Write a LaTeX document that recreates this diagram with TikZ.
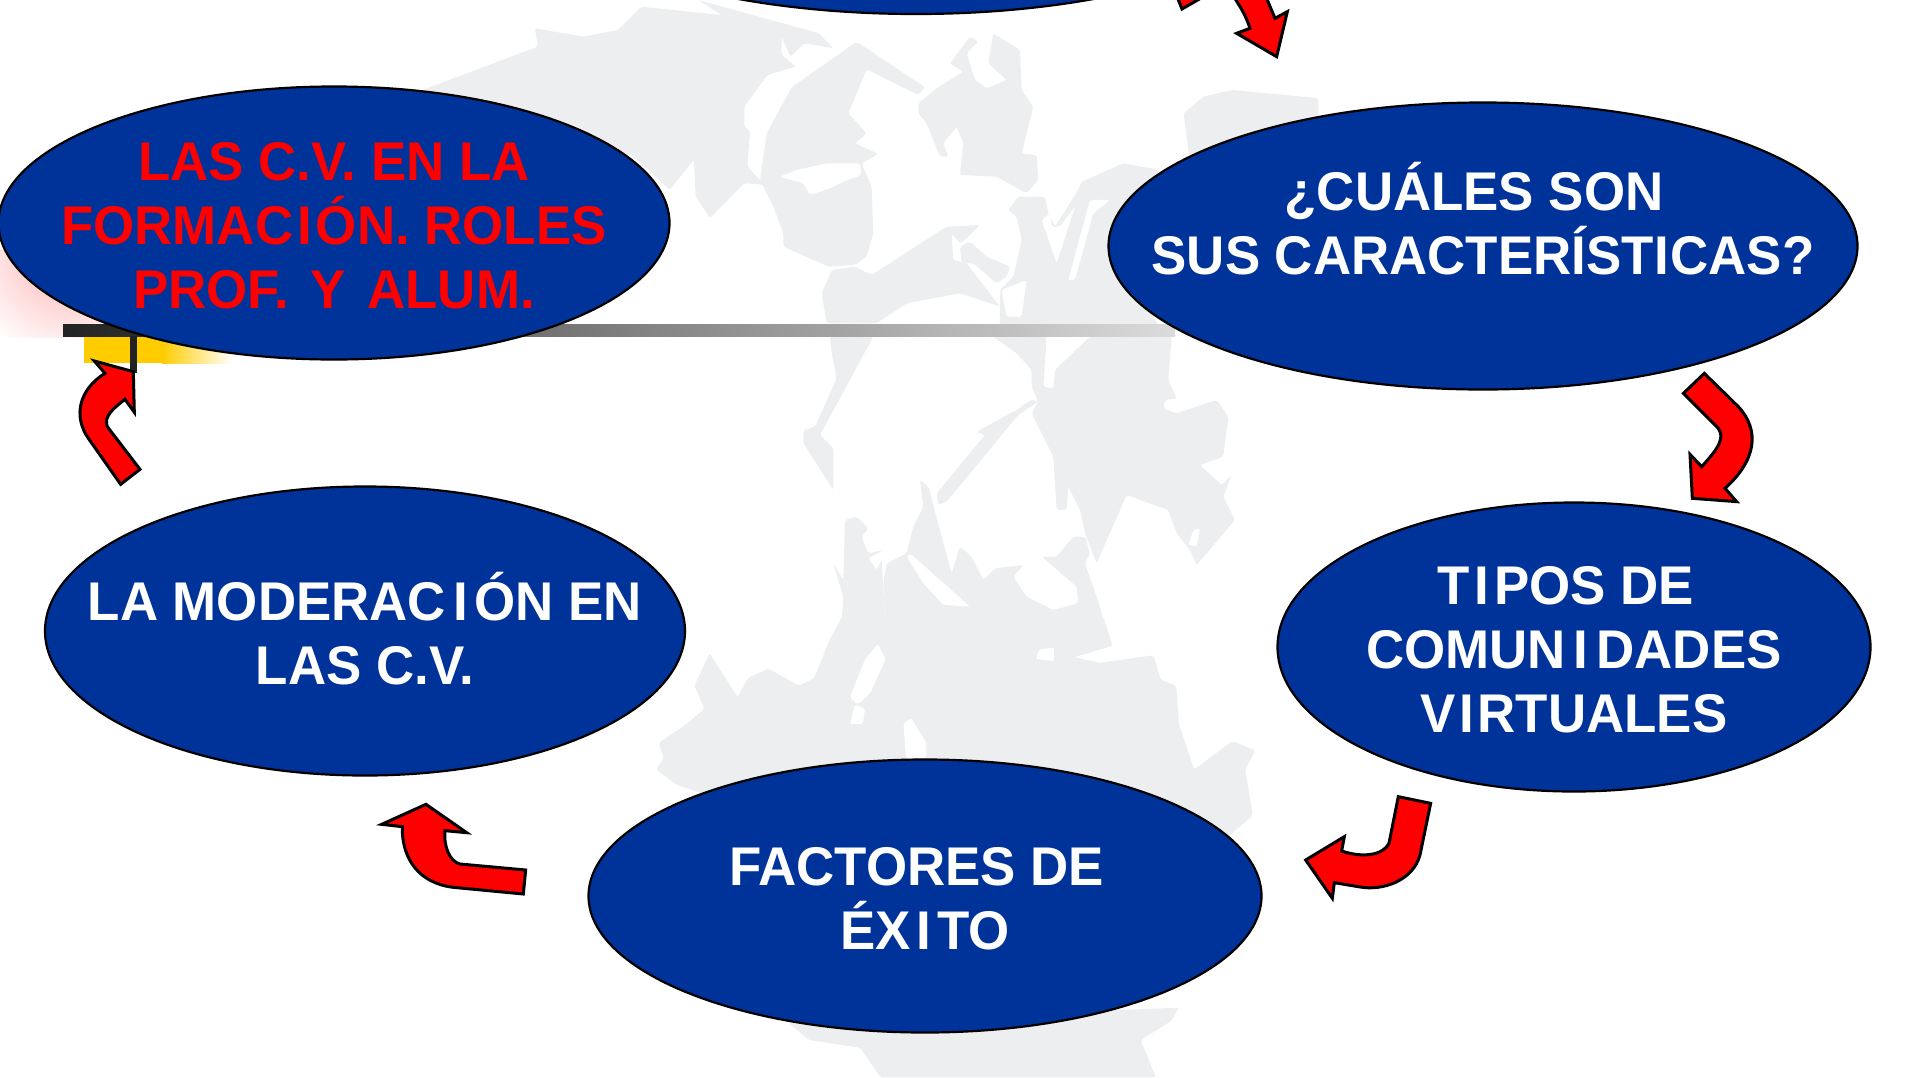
\documentclass[tikz,border=0pt]{standalone}
\usepackage{fontspec}
\setmainfont[FakeStretch=0.97]{Liberation Sans}
\usetikzlibrary{shapes.geometric}
\definecolor{bubblue}{HTML}{003399}
\definecolor{bggray}{HTML}{ECEEEF}
\definecolor{goldbar}{HTML}{FFCC00}
\definecolor{darkbar}{HTML}{222222}
\newcommand{\wideI}[1]{\kern#1pt I\kern#1pt}
\tikzset{
  bubble/.style={ellipse, draw=black, line width=2.2pt, fill=bubblue, inner sep=0pt},
  bubtext/.style={text=white, align=center, inner sep=0pt, font=\fontsize{54.5}{64}\selectfont\bfseries},
  blockarrow/.style={fill=red, draw=black, line width=3pt, line join=miter},
  bgshape/.style={fill=bggray, draw=none, rounded corners=2pt},
  bghole/.style={fill=white, draw=none, rounded corners=2pt}
}
\begin{document}
\begin{tikzpicture}[x=1pt, y=-1pt]
\useasboundingbox (0,0) rectangle (1915,1077);
% silhouette, far left and far right
\begin{scope}[shift={(400,0)}, xscale=0.574, yscale=0.333]
\fill [bgshape] (40,270) -- (240,140) -- (235,85) -- (320,110) -- (380,90) -- (420,20) -- (560,45) -- (520,0) -- (730,100) -- (755,145) -- (705,130) -- (680,170) -- (665,110) -- (665,165) -- (690,200) -- (640,225) -- (600,320) -- (600,380) -- (610,395) -- (605,500) -- (635,555) -- (600,550) -- (540,655) -- (515,590) -- (512,480) -- (470,570) -- (400,460) -- (300,600) -- (0,600) -- cycle;
\fill [bgshape] (1365,340) -- (1400,290) -- (1450,270) -- (1600,295) -- (1600,700) -- (1350,700) -- (1375,470) -- cycle;
\end{scope}
% silhouette, above the bar
\begin{scope}[shift={(760,0)}, scale=0.3333]
\fill [bgshape] (95,262) -- (290,125) -- (495,262) -- (475,285) -- (320,208) -- (265,340) -- (320,400) -- (285,430) -- (355,462) -- (305,490) -- (335,560) -- (340,700) -- (320,770) -- (285,795) -- (205,800) -- (70,740) -- (70,700) -- (40,620) -- (0,540) -- (20,400) -- cycle;
\fill [bghole] (60,530) -- (110,510) -- (200,490) -- (300,490) -- (305,525) -- (250,545) -- (210,565) -- (150,585) -- (130,550) -- cycle;
\fill [bgshape] (475,310) -- (530,265) -- (610,215) -- (570,190) -- (630,110) -- (655,125) -- (620,160) -- (645,240) -- (680,265) -- (740,240) -- (685,190) -- (700,100) -- (780,150) -- (785,270) -- (820,320) -- (785,460) -- (830,465) -- (835,540) -- (800,580) -- (710,530) -- (600,525) -- (610,430) -- (590,380) -- (550,430) -- (565,470) -- (540,470) -- (500,370) -- (475,340) -- cycle;
\fill [bgshape] (745,630) -- (775,590) -- (855,590) -- (865,640) -- (885,680) -- (955,570) -- (965,545) -- (1090,490) -- (1200,510) -- (1060,700) -- (1200,990) -- (720,990) -- (720,870) -- (760,830) -- (785,720) -- (770,650) -- cycle;
\fill [bghole] (845,660) -- (890,790) -- (945,620) -- (900,680) -- (875,680) -- (870,640) -- cycle;
\fill [bghole] (925,840) -- (990,600) -- (1050,600) -- (1000,640) -- (945,840) -- cycle;
\fill [bghole] (725,870) -- (800,840) -- (785,950) -- (740,950) -- cycle;
\fill [bgshape] (285,800) -- (335,825) -- (560,680) -- (660,675) -- (620,715) -- (600,730) -- (575,700) -- (580,780) -- (620,790) -- (720,920) -- (600,880) -- (440,910) -- (350,970) -- (200,970) -- (185,880) -- (215,810) -- cycle;
\fill [bgshape] (600,740) -- (630,725) -- (680,770) -- (750,800) -- (740,830) -- (710,850) -- (640,790) -- (605,790) -- cycle;
\end{scope}
% silhouette, below the bar
\begin{scope}[shift={(760,320)}, scale=0.3333]
\fill [bgshape] (210,50) -- (340,50) -- (180,345) -- (220,385) -- (220,510) -- (130,370) -- (130,330) -- (165,320) -- (230,175) -- (215,100) -- cycle;
\fill [bgshape] (700,50) -- (860,50) -- (850,200) -- (880,205) -- (885,150) -- (990,50) -- (1235,50) -- (1225,180) -- (1250,235) -- (1215,240) -- (1210,265) -- (1250,280) -- (1370,240) -- (1405,290) -- (1390,410) -- (1320,435) -- (1385,495) -- (1415,465) -- (1390,530) -- (1425,600) -- (1310,735) -- (1290,690) -- (1250,640) -- (1225,570) -- (1100,525) -- (1010,730) -- (975,640) -- (960,570) -- (925,500) -- (920,570) -- (890,570) -- (880,410) -- (815,280) -- (835,245) -- (815,200) -- (815,150) -- (770,100) -- cycle;
\fill [bghole] (1300,630) -- (1320,625) -- (1310,680) -- (1285,675) -- cycle;
\fill [bgshape] (815,238) -- (835,245) -- (775,285) -- (560,545) -- (535,555) -- (530,520) -- (675,345) -- (650,335) -- (770,270) -- cycle;
\fill [bgshape] (255,600) -- (290,590) -- (325,625) -- (305,650) -- (325,700) -- (370,690) -- (325,715) -- (350,750) -- (365,720) -- (375,900) -- (245,900) -- (250,830) -- (220,730) -- (250,780) -- cycle;
\fill [bgshape] (480,480) -- (505,500) -- (545,650) -- (575,760) -- (600,680) -- (625,700) -- (640,720) -- (670,780) -- (705,745) -- (790,735) -- (760,770) -- (800,830) -- (880,870) -- (955,850) -- (950,800) -- (845,710) -- (890,710) -- (940,650) -- (975,650) -- (990,700) -- (975,730) -- (1020,860) -- (1030,900) -- (375,900) -- (370,790) -- (380,730) -- (440,700) -- (460,620) -- (490,560) -- cycle;
\fill [bghole] (440,710) -- (490,790) -- (550,855) -- (630,860) -- (450,700) -- cycle;
\end{scope}
% silhouette, bottom
\begin{scope}[shift={(600,480)}, xscale=0.51, yscale=0.381]
\fill [bgshape] (474,360) -- (987,360) -- (1005,435) -- (930,465) -- (980,480) -- (1085,460) -- (1100,525) -- (1130,540) -- (1135,640) -- (1165,760) -- (1240,685) -- (1285,710) -- (1265,760) -- (1280,880) -- (1220,950) -- (600,1000) -- (150,800) -- (110,760) -- (125,730) -- (115,690) -- (170,640) -- (205,600) -- (185,540) -- (215,455) -- (270,570) -- (290,520) -- (330,495) -- (390,540) -- (420,520) -- (450,420) -- cycle;
\fill [bghole] (860,445) -- (890,440) -- (890,475) -- (855,470) -- cycle;
\fill [bghole] (490,570) -- (520,470) -- (545,430) -- (560,470) -- (530,560) -- (505,590) -- cycle;
\fill [bghole] (490,640) -- (500,590) -- (520,600) -- (515,640) -- cycle;
\fill [bghole] (595,640) -- (610,625) -- (640,690) -- (640,730) -- (600,730) -- cycle;
\fill [bgshape] (370,1425) -- (1135,1385) -- (1120,1420) -- (1060,1470) -- (1090,1568) -- (550,1568) -- (510,1490) -- (410,1470) -- cycle;
\end{scope}
% left-hand decoration
\begin{scope}
\clip (0,250) rectangle (125,337);
\shade [inner color=red!32, outer color=white] (70,250) circle [radius=112];
\end{scope}
\fill [goldbar] (84,336) rectangle (162,363);
\shade [left color=goldbar, right color=white] (162,336) rectangle (233,363);
\shade [left color=darkbar, right color=black!14] (63,324) rectangle (1175,336);
\fill [darkbar] (130,336) rectangle (137,373);
% bubbles
\node [bubble, minimum width=798, minimum height=288] (etop) at (916,-130) {};
\node [bubble, minimum width=671, minimum height=273] (ecv) at (334,223) {};
\node [bubble, minimum width=749, minimum height=287] (ecual) at (1483,246) {};
\node [bubble, minimum width=593, minimum height=289] (etipos) at (1574,647) {};
\node [bubble, minimum width=673, minimum height=273] (efact) at (925,896) {};
\node [bubble, minimum width=640, minimum height=289] (emod) at (365,631) {};
\node [bubtext, text=red] (tcv) at (334,226) {LAS C.V. EN LA\\FORMAC\wideI{4}ÓN. ROLES\\PROF.\kern7pt{} Y\kern7pt{} ALUM.};
\node [bubtext] (tcual) at (1483,219) {¿CUÁLES SON\hspace*{18pt}\\SUS CARACTERÍST\wideI{1}CAS?};
\node [bubtext] (ttipos) at (1574,650) {T\wideI{5}POS DE\hspace*{17pt}\\COMUN\wideI{8}DADES\\V\wideI{3.5}RTUALES};
\node [bubtext] (tfact) at (925,899) {FACTORES DE\hspace*{17pt}\\ÉX\wideI{6}TO};
\node [bubtext] (tmod) at (365,629) {LA MODERAC\wideI{7}ÓN EN\\LAS C.V.};
% block arrows
\draw [blockarrow] (1176,-6) -- (1182,9) -- (1208,-6);
\begin{scope}[shift={(1200,0)}, scale=0.3333]
\draw [blockarrow] (230,170) -- (110,100) -- (150,85) .. controls (135,40) and (120,20) .. (95,-20) -- (195,-20) .. controls (205,10) and (215,30) .. (225,55) -- (262,35) -- cycle;
\end{scope}
\begin{scope}[shift={(1650,360)}, scale=0.3333]
\draw [blockarrow] (163,40) -- (100,100) -- (205,205) .. controls (225,235) and (205,265) .. (155,320) -- (120,283) -- (127,415) -- (260,425) -- (225,385) .. controls (320,300) and (330,210) .. (265,140) -- cycle;
\end{scope}
\begin{scope}[shift={(1290,780)}, scale=0.3333]
\draw [blockarrow] (325,50) -- (422,70) -- (390,225) .. controls (370,300) and (280,335) .. (205,320) -- (133,308) -- (127,355) -- (47,240) -- (163,170) -- (155,213) .. controls (220,235) and (280,225) .. (297,190) -- cycle;
\end{scope}
\begin{scope}[shift={(370,790)}, scale=0.3333]
\draw [blockarrow] (467,240) -- (460,312) -- (250,292) .. controls (150,280) and (95,210) .. (97,110) -- (35,103) -- (168,43) -- (290,128) -- (225,122) .. controls (220,170) and (240,215) .. (270,222) -- cycle;
\end{scope}
\begin{scope}[shift={(0,250)}, scale=0.3333]
\draw [blockarrow] (362,703) -- (420,658) -- (322,530) .. controls (310,500) and (340,475) .. (375,448) -- (403,487) -- (400,365) -- (283,333) -- (315,370) .. controls (235,420) and (220,500) .. (265,565) -- cycle;
\end{scope}
\end{tikzpicture}
\end{document}
